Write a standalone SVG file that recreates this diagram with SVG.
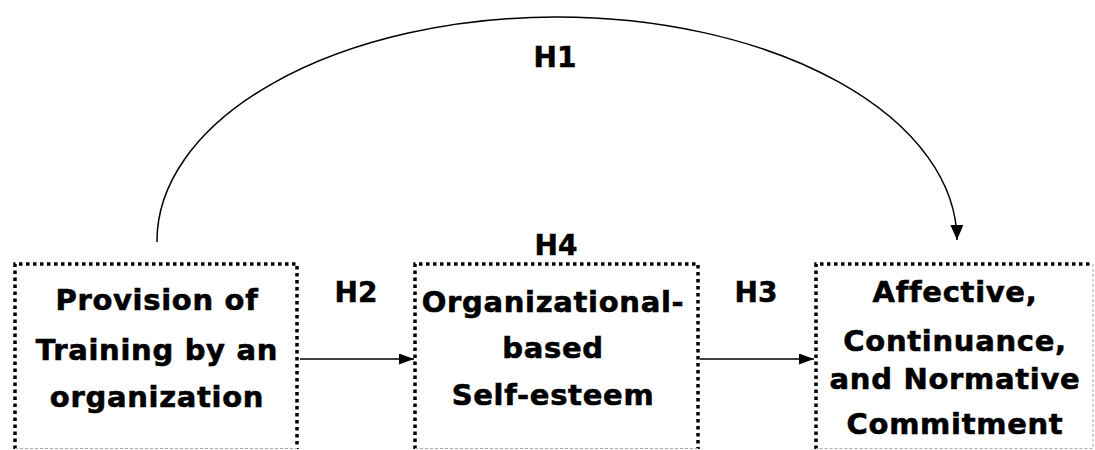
<svg xmlns="http://www.w3.org/2000/svg" width="1095" height="450" viewBox="0 0 1095 450">
<style>
.dot{stroke:#000;stroke-width:3.5;stroke-dasharray:3.5 3.5;fill:none}
.faint{stroke:#aaa;stroke-width:1;stroke-dasharray:3 2;fill:none}
.lbl{font-family:"DejaVu Sans",Verdana,sans-serif;font-weight:bold;font-size:29px;letter-spacing:0.7px;fill:#000;stroke:#000;stroke-width:0.6;text-anchor:middle}
.h{font-family:"DejaVu Sans",Verdana,sans-serif;font-weight:bold;font-size:28px;fill:#000;stroke:#000;stroke-width:0.5;text-anchor:middle}
.conn{stroke:#000;stroke-width:1.5;fill:none}
</style>
<defs>
<marker id="ah" markerUnits="userSpaceOnUse" markerWidth="16" markerHeight="14" refX="15" refY="6.5" orient="auto" viewBox="0 0 16 14">
<path d="M0,0 L15,6.5 L0,13 Z" fill="#000"/>
</marker>
<marker id="ahs" markerUnits="userSpaceOnUse" markerWidth="16" markerHeight="12" refX="15" refY="5.5" orient="auto" viewBox="0 0 16 12">
<path d="M0,0 L15,5.5 L0,11 Z" fill="#000"/>
</marker>
</defs>
<rect width="1095" height="450" fill="#fff"/>
<g id="node-training">
<path class="dot" d="M15,449 L15,264 L297,264 L297,449"/>
<path class="faint" d="M15,448.5 L297,448.5"/>
<text class="lbl" x="157" y="310">Provision of</text>
<text class="lbl" x="157" y="360">Training by an</text>
<text class="lbl" x="157" y="407">organization</text>
</g>
<g id="node-selfesteem">
<path class="dot" d="M415,449 L415,264 L698,264 L698,449"/>
<path class="faint" d="M415,448.5 L698,448.5"/>
<text class="lbl" x="553" y="312">Organizational-</text>
<text class="lbl" x="553" y="358">based</text>
<text class="lbl" x="553" y="405">Self-esteem</text>
</g>
<g id="node-commitment">
<path class="dot" d="M816,449 L816,264 L1093,264"/>
<path class="faint" d="M1093,264 L1093,448.5 L816,448.5"/>
<text class="lbl" x="955" y="302">Affective,</text>
<text class="lbl" x="955" y="351">Continuance,</text>
<text class="lbl" x="955" y="389">and Normative</text>
<text class="lbl" x="955" y="434">Commitment</text>
</g>
<g id="connectors">
<path class="conn" d="M157,242 A400,224 0 0 1 957,240" marker-end="url(#ah)"/>
<path class="conn" d="M300,359 L414,359" marker-end="url(#ahs)"/>
<path class="conn" d="M700,359 L814,359" marker-end="url(#ahs)"/>
<text class="h" x="555" y="67">H1</text>
<text class="h" x="356" y="302">H2</text>
<text class="h" x="756" y="302">H3</text>
<text class="h" x="556" y="255">H4</text>
</g>
</svg>
